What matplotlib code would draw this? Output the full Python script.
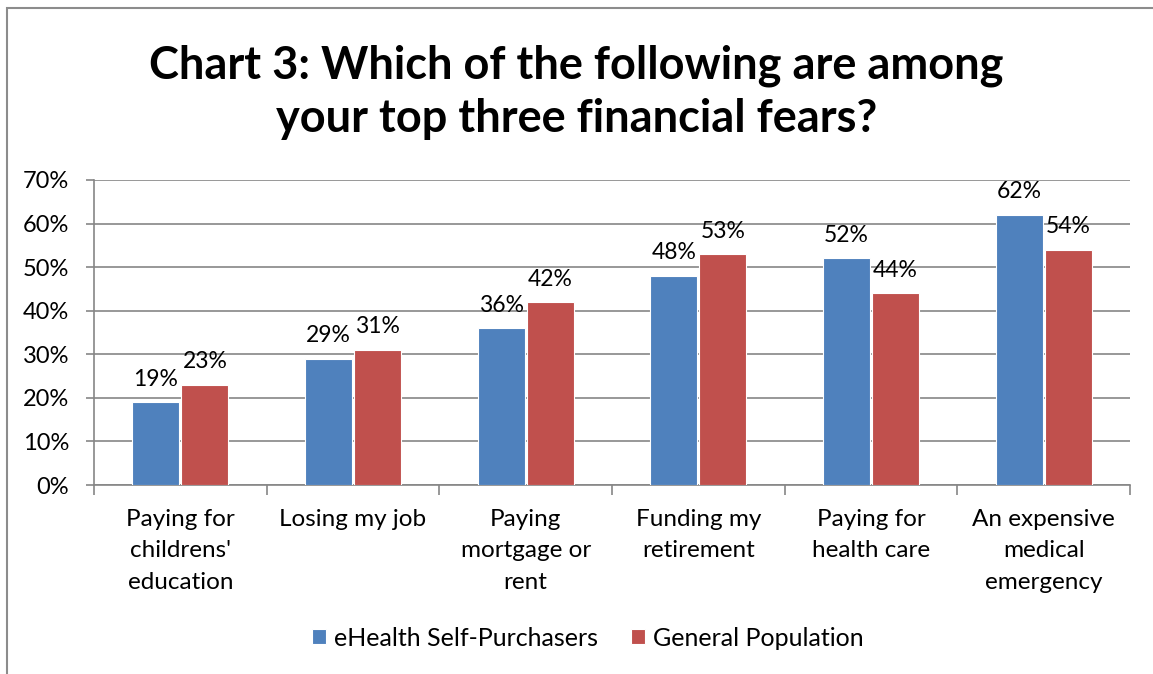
import numpy as np
import matplotlib.pyplot as plt
from matplotlib.patches import Rectangle

plt.rcParams['font.family'] = ['Lato', 'DejaVu Sans']

categories = ["Paying for\nchildrens'\neducation", "Losing my job", "Paying\nmortgage or\nrent",
              "Funding my\nretirement", "Paying for\nhealth care", "An expensive\nmedical\nemergency"]
ehealth = [19, 29, 36, 48, 52, 62]
general = [23, 31, 42, 53, 44, 54]
series_names = ["eHealth Self-Purchasers", "General Population"]
yticks = [0, 10, 20, 30, 40, 50, 60, 70]

blue = "#4F81BD"
red = "#C0504D"
grid_col = "#868686"

fig = plt.figure(figsize=(11.53, 6.74), dpi=100)
# outer chart frame
fig.patches.append(Rectangle((7 / 1153, -0.1), 1.2, 1.1 - 8 / 674, transform=fig.transFigure,
                             fill=False, edgecolor="#8c8c8c", linewidth=1.5))

ax = fig.add_axes([94 / 1153, 1 - 485 / 674, (1130 - 94) / 1153, (485 - 180) / 674])

x = np.arange(len(categories))
w = 0.272
b1 = ax.bar(x - w / 2 - 0.006, ehealth, w, color=blue, edgecolor="white", linewidth=0.8, zorder=3)
b2 = ax.bar(x + w / 2 + 0.006, general, w, color=red, edgecolor="white", linewidth=0.8, zorder=3)

for bars, vals in ((b1, ehealth), (b2, general)):
    for r, v in zip(bars, vals):
        ax.annotate(f"{v}%", (r.get_x() + r.get_width() / 2, v), xytext=(0, 9),
                    textcoords="offset points", ha="center", va="bottom", fontsize=16.5, color="black")

ax.set_xlim(-0.5, len(categories) - 0.5)
ax.set_ylim(0, 70)
ax.set_yticks(yticks)
ax.set_yticklabels([f"{t}%" for t in yticks], fontsize=17)
ax.yaxis.grid(True, color=grid_col, linewidth=1.2, zorder=0)
ax.set_axisbelow(True)

ax.set_xticks(np.arange(-0.5, len(categories)), minor=False)
ax.set_xticklabels([])
ax.set_xticks(x, minor=True)
ax.set_xticklabels(categories, minor=True, fontsize=17.5, linespacing=1.62, va="top")
ax.tick_params(axis="x", which="minor", length=0, pad=17)
ax.tick_params(axis="x", which="major", length=7, color=grid_col, width=1.2)
ax.tick_params(axis="y", length=6, color=grid_col, width=1.2, pad=12)

for s in ("top", "right"):
    ax.spines[s].set_visible(False)
for s in ("left", "bottom"):
    ax.spines[s].set_color(grid_col)
    ax.spines[s].set_linewidth(1.2)

fig.text(0.5, 1 - 92 / 674, "Chart 3: Which of the following are among\nyour top three financial fears?",
         ha="center", va="center", fontsize=32.5, fontweight="bold", linespacing=1.33)

fig.legend([b1, b2], series_names, loc="center", bbox_to_anchor=(588 / 1153, 1 - 638 / 674),
           ncol=2, frameon=False, fontsize=18, handlelength=0.55, handleheight=0.55,
           columnspacing=1.3, handletextpad=0.35)

fig.savefig("out.png", dpi=100)
